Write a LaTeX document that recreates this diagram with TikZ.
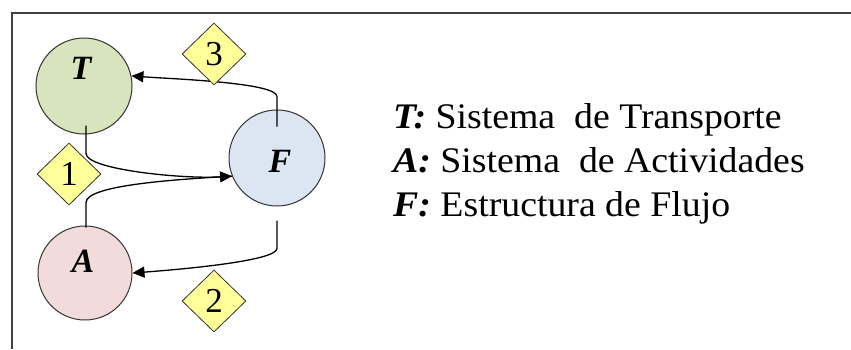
\documentclass[tikz,border=0pt]{standalone}
\usepackage{fontspec}
\setmainfont{Liberation Serif}
\usetikzlibrary{shapes.geometric,arrows.meta}
\definecolor{tfill}{RGB}{215,228,189}
\definecolor{ffill}{RGB}{220,230,242}
\definecolor{afill}{RGB}{242,220,219}
\definecolor{dfill}{RGB}{255,255,153}
\begin{document}
\begin{tikzpicture}[x=1pt,y=1pt,
 circ/.style={circle,draw=black!80,line width=1pt,minimum size=96pt,inner sep=0pt},
 lettr/.style={inner sep=0pt,font=\fontsize{34}{36}\selectfont\bfseries\itshape},
 dia/.style={diamond,draw=black!80,fill=dfill,line width=0.8pt,minimum width=64pt,minimum height=62pt,inner sep=0pt,font=\fontsize{35}{37}\selectfont},
 arr/.style={line width=1.3pt,-{Triangle[length=12pt,width=11pt]}},
 ln/.style={line width=1.3pt},
 legend/.style={anchor=base west,inner sep=0pt,font=\fontsize{36}{40}\selectfont}]
\useasboundingbox (0,0) rectangle (851,349);
\draw[line width=2pt,black!75] (12,0) -- (12,336) -- (851,336);
% circles
\node[circ,fill=tfill] (T) at (84,263) {};
\node[circ,fill=ffill] (F) at (277,191) {};
\node[circ,fill=afill,minimum size=94pt] (A) at (85,76) {};
\node[lettr] (tl) at ([xshift=-3pt,yshift=18pt]T.center) {T};
\node[lettr] (fl) at ([xshift=3pt,yshift=-3pt]F.center) {F};
\node[lettr] (al) at ([xshift=-2pt,yshift=12pt]A.center) {A};
% connector anchors
\coordinate (t1) at ([xshift=2pt,yshift=9pt]T.south);
\coordinate (a1) at ([xshift=1pt,yshift=-2pt]A.north);
\coordinate (f3) at ([yshift=-17pt]F.north);
\coordinate (f2) at ([yshift=-14pt]F.south);
% connectors
\draw[arr] (f3) -- ++(0,30) .. controls +(0,14) and +(40,-3) .. (T.12);
\draw[arr] (f2) -- ++(0,-28) .. controls +(0,-13) and +(40,3) .. (A.east);
\draw[arr] (t1) -- ++(0,-28) .. controls +(0,-16) and +(-50,-3) .. (F.202);
\draw[ln] (a1) -- ++(0,25) .. controls +(0,18) and +(-50,-3) .. (F.202);
% diamonds
\node[dia] (d3) at (214,295) {3};
\node[dia] (d1) at (69,175) {1};
\node[dia] (d2) at (214,48) {2};
% legend
\node[legend] (lt) at (393,221) {\scalebox{1.05}[1]{\textbf{\textit{T:}} Sistema\ \ de Transporte}};
\node[legend] (la) at (393,177) {\scalebox{1.05}[1]{\textbf{\textit{A:}} Sistema\ \ de Actividades}};
\node[legend] (lf) at (393,133) {\scalebox{1.05}[1]{\textbf{\textit{F:}} Estructura de Flujo}};
\end{tikzpicture}
\end{document}
